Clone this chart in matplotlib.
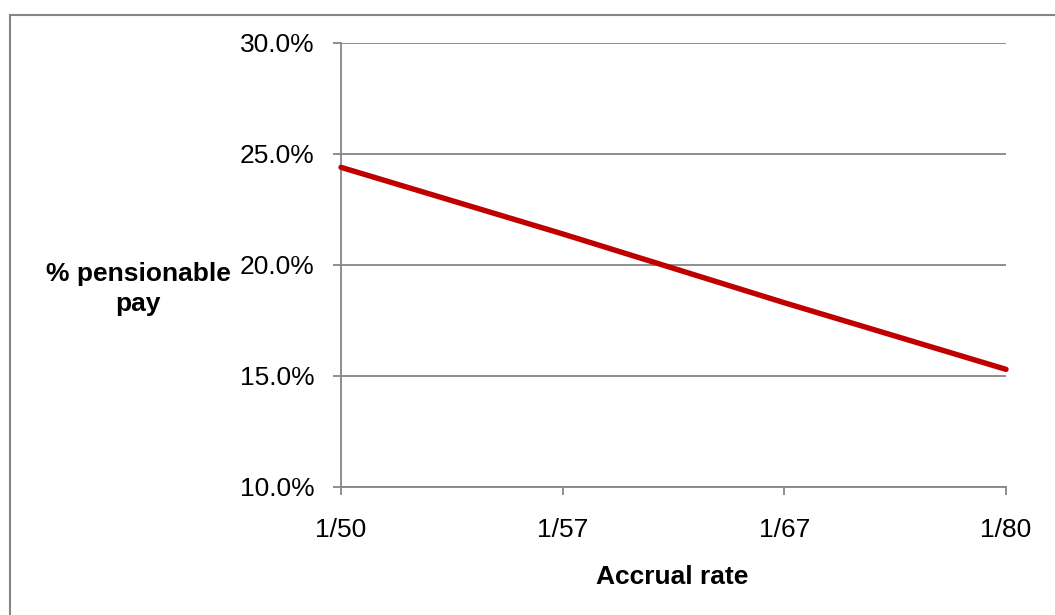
import matplotlib.pyplot as plt
from matplotlib.lines import Line2D
from matplotlib.ticker import FuncFormatter
import numpy as np

# cost of scheme (% pensionable pay) by accrual rate
accrual_rates = ['1/50', '1/57', '1/67', '1/80']
cost_pct = [24.4, 21.4, 18.3, 15.3]

plt.rcParams['font.family'] = ['Liberation Sans', 'DejaVu Sans']
grey = '#868686'

W, H = 1055, 615
fig = plt.figure(figsize=(W / 100, H / 100), dpi=100)
ax = fig.add_axes([341 / W, 1 - 487 / H, (1006 - 341) / W, (487 - 43) / H])

x = np.arange(len(accrual_rates))
ax.plot(x, cost_pct, color='#C00000', linewidth=3.9, solid_capstyle='round',
        clip_on=False, zorder=3)

ax.set_xlim(0, len(accrual_rates) - 1)
ax.set_ylim(10, 30)
ax.set_yticks([10, 15, 20, 25, 30])
ax.yaxis.set_major_formatter(FuncFormatter(lambda v, p: f'{v:.1f}%'))
ax.set_xticks(x)
ax.set_xticklabels(accrual_rates)

ax.grid(axis='y', color=grey, linewidth=1.3)
ax.set_axisbelow(True)
for s in ['top', 'right']:
    ax.spines[s].set_visible(False)
for s in ['left', 'bottom']:
    ax.spines[s].set_color(grey)
    ax.spines[s].set_linewidth(1.3)
ax.tick_params(axis='both', colors=grey, length=6, width=1.3, labelsize=19,
               labelcolor='black')
ax.tick_params(axis='y', pad=13)
ax.tick_params(axis='x', pad=16)

fig.text(672 / W, 1 - 577 / H, 'Accrual rate', ha='center', va='center',
         fontsize=19, fontweight='bold')
fig.text(138 / W, 1 - 289 / H, '% pensionable\npay', ha='center', va='center',
         fontsize=19, fontweight='bold', multialignment='center', linespacing=1.35)

# outer chart frame
fig.add_artist(Line2D([10 / W, 10 / W], [0, 1 - 15 / H], color=grey, linewidth=1.5))
fig.add_artist(Line2D([10 / W, 1], [1 - 15 / H, 1 - 15 / H], color=grey, linewidth=1.5))

fig.savefig('out.png', dpi=100)
